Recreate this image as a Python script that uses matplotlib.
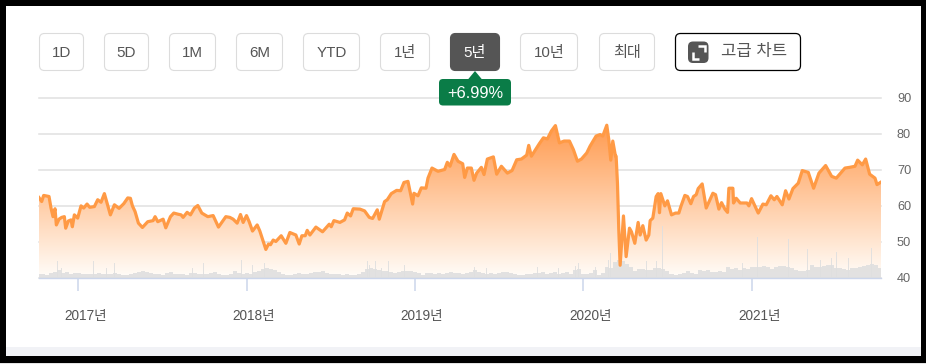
# -*- coding: utf-8 -*-
import numpy as np
import matplotlib
matplotlib.use("Agg")
import matplotlib.pyplot as plt
from matplotlib.patches import FancyBboxPatch, Rectangle, Polygon
from matplotlib.transforms import ScaledTranslation

plt.rcParams["font.family"] = ["Liberation Sans", "Noto Sans CJK KR"]

FIG_W = 926
FIG_H = 364

# trading session index (about 252 per year) and price
sessions = [0, 4, 7, 15, 18, 21, 24, 26, 30, 34, 38, 40, 44, 48, 50, 53, 58, 63, 67, 72,
            76, 83, 88, 93, 98, 102, 107, 113, 120, 127, 133, 137, 140, 144, 149, 155, 163, 171, 174, 178,
            186, 190, 197, 202, 208, 213, 216, 222, 227, 233, 238, 244, 253, 261, 269, 280, 286, 291, 297, 302,
            306, 311, 315, 320, 327, 331, 340, 344, 347, 351, 355, 363, 370, 376, 385, 390, 394, 399, 402, 406,
            415, 425, 435, 438, 442, 451, 458, 462, 467, 471, 481, 488, 495, 500, 507, 510, 518, 522, 528, 536,
            542, 547, 553, 560, 562, 568, 573, 580, 583, 589, 598, 608, 612, 616, 622, 628, 635, 638, 642, 648,
            652, 656, 663, 667, 672, 681, 686, 693, 702, 709, 716, 723, 731, 734, 738, 750, 756, 762, 768, 774,
            780, 787, 795, 801, 807, 813, 821, 826, 835, 841, 845, 851, 854, 857, 860, 864, 865, 867, 869, 871,
            876, 880, 885, 888, 893, 898, 901, 905, 910, 914, 916, 920, 925, 928, 930, 932, 938, 942, 948, 954,
            959, 962, 968, 972, 977, 981, 985, 988, 994, 1000, 1010, 1014, 1019, 1023, 1028, 1032, 1034, 1040, 1041, 1045,
            1051, 1061, 1064, 1068, 1071, 1078, 1085, 1090, 1097, 1102, 1106, 1114, 1119, 1124, 1130, 1138, 1144, 1153, 1161, 1169,
            1179, 1188, 1195, 1208, 1215, 1223, 1227, 1234, 1239, 1245, 1253, 1256, 1262]
prices = [62.2, 61.1, 62.8, 62.5, 59.3, 56.9, 59.1, 54.6, 56.2, 56.7, 56.9, 53.7, 55.7, 56.0, 54.1, 57.4, 56.5, 59.9, 59.3, 60.4,
          59.5, 59.7, 61.6, 60.9, 63.3, 60.7, 57.4, 60.2, 59.2, 60.5, 62.1, 62.0, 59.9, 58.3, 55.1, 53.9, 55.5, 55.8, 56.9, 55.5,
          56.2, 53.8, 56.9, 57.9, 57.6, 57.4, 56.7, 58.1, 57.4, 59.3, 60.0, 57.9, 56.9, 57.2, 54.0, 56.9, 56.7, 56.2, 55.1, 57.5,
          55.3, 57.2, 55.5, 52.9, 54.6, 52.9, 47.8, 49.3, 49.1, 50.4, 50.0, 51.6, 49.5, 52.5, 51.8, 49.3, 51.6, 51.6, 53.1, 51.8,
          54.0, 52.7, 54.8, 54.1, 55.8, 55.3, 56.0, 57.9, 57.1, 59.1, 59.0, 58.5, 56.7, 56.4, 58.8, 56.2, 61.1, 61.6, 63.3, 64.2,
          64.1, 66.4, 66.7, 60.4, 63.4, 62.7, 64.9, 64.8, 67.6, 70.4, 69.5, 70.0, 72.0, 70.9, 74.2, 72.3, 71.6, 67.8, 70.4, 70.4,
          67.0, 69.0, 70.6, 68.6, 72.9, 73.5, 68.7, 70.9, 69.0, 69.7, 72.7, 72.9, 74.0, 76.7, 73.7, 77.2, 78.8, 78.5, 80.7, 82.2,
          77.4, 77.9, 77.9, 75.5, 72.3, 72.9, 74.6, 76.5, 79.3, 79.7, 79.3, 82.3, 78.3, 72.6, 77.9, 73.7, 73.7, 66.2, 53.2, 43.4,
          57.1, 45.8, 53.7, 52.7, 49.5, 55.3, 51.8, 54.4, 50.4, 51.8, 55.8, 56.5, 62.5, 63.3, 58.0, 63.3, 59.9, 61.3, 57.4, 57.9,
          57.9, 59.7, 62.8, 62.5, 60.5, 62.5, 63.0, 64.7, 66.0, 59.3, 63.4, 63.0, 59.0, 60.8, 59.0, 58.1, 64.8, 64.8, 60.7, 62.0,
          60.7, 60.7, 59.9, 61.9, 60.7, 57.9, 60.4, 60.2, 62.7, 61.6, 62.5, 60.2, 64.1, 61.8, 64.7, 66.2, 69.7, 69.2, 64.8, 69.0,
          71.1, 68.1, 67.6, 70.4, 70.6, 70.9, 72.6, 71.3, 72.9, 68.7, 67.6, 65.8, 66.5]

# volume, one value per 6 sessions, and the isolated spikes
volume_step = 6
volumes = [4, 4, 3, 5, 6, 8, 5, 6, 4, 5,
           5, 4, 4, 4, 4, 5, 4, 4, 4, 5,
           4, 3, 3, 4, 5, 6, 7, 6, 5, 4,
           4, 3, 5, 6, 4, 4, 4, 3, 5, 5,
           4, 4, 4, 5, 6, 4, 3, 3, 4, 7,
           5, 4, 5, 4, 6, 7, 9, 10, 9, 8,
           6, 4, 3, 3, 4, 5, 4, 4, 5, 6,
           6, 7, 5, 4, 4, 4, 3, 4, 3, 3,
           4, 6, 9, 10, 9, 8, 7, 7, 6, 5,
           6, 7, 7, 7, 6, 5, 3, 5, 5, 4,
           5, 4, 5, 6, 5, 5, 4, 5, 6, 8,
           6, 5, 4, 5, 4, 5, 6, 6, 5, 4,
           3, 3, 4, 4, 5, 5, 6, 4, 5, 6,
           4, 5, 6, 4, 8, 9, 4, 4, 5, 8,
           3, 5, 11, 10, 16, 18, 17, 14, 11, 7,
           9, 9, 8, 8, 10, 10, 9, 7, 4, 3,
           4, 5, 7, 5, 4, 8, 7, 8, 6, 6,
           7, 6, 11, 9, 10, 8, 10, 9, 11, 11,
           11, 12, 11, 9, 11, 12, 12, 11, 10, 8,
           7, 7, 8, 13, 11, 11, 12, 13, 13, 10,
           10, 9, 8, 10, 10, 11, 12, 13, 14, 13, 10]
spike_sessions = [27, 33, 82, 101, 113, 230, 246, 303, 320, 338,
                  492, 496, 504, 513, 524, 548, 652, 670, 747, 778, 804, 809, 834, 854,
                  856, 911, 925, 935, 1054, 1077, 1123, 1152, 1172, 1188, 1196, 1214, 1248]
spike_volumes = [17, 10, 17, 10, 15, 10, 15, 18, 13, 15,
                 17, 13, 17, 10, 17, 13, 11, 10, 11, 10, 12, 15, 11, 18,
                 25, 17, 17, 52, 15, 41, 39, 29, 18, 20, 26, 20, 30]

year_sessions = [59, 312, 563, 816, 1069]
year_labels = ["2017년", "2018년", "2019년", "2020년", "2021년"]
price_ticks = [40, 50, 60, 70, 80, 90]

button_labels = ["1D", "5D", "1M", "6M", "YTD", "1년", "5년", "10년", "최대"]
button_lefts = [39, 104, 169, 236, 303, 380, 450, 520, 599]
button_rights = [84, 149, 216, 283, 360, 430, 500, 578, 655]
active_label = "5년"
change_label = "+6.99%"
advanced_label = "고급 차트"


# ----------
def px_text(ax, x, y, the_str, color="#555555", size=10.9, **kwargs):
    ax.text(x, y, the_str, color=color, fontsize=size, ha="center",
            va="center_baseline", **kwargs)


# ----------
def draw_frame(ax):
    ax.add_patch(Rectangle((6, 347), 915, 9, fc="#f1f2f6", ec="none"))
    ax.add_patch(Rectangle((0, 0), FIG_W, 6, fc="black", ec="none"))
    ax.add_patch(Rectangle((0, 0), 6, 363, fc="black", ec="none"))
    ax.add_patch(Rectangle((921, 0), 5, 363, fc="black", ec="none"))
    ax.add_patch(Rectangle((0, 356), FIG_W, 7, fc="black", ec="none"))
    ax.add_patch(Rectangle((0, 363), FIG_W, 1, fc="#e4e4e4", ec="none"))


# ----------
def draw_buttons(ax):
    for the_label, x0, x1 in zip(button_labels, button_lefts, button_rights):
        is_active = the_label == active_label
        ax.add_patch(FancyBboxPatch((x0 + .5, 33.5), x1 - x0 - 1, 37,
                                    boxstyle="round,pad=0,rounding_size=5",
                                    fc="#555555" if is_active else "white",
                                    ec="#555555" if is_active else "#dcdcdc",
                                    lw=.8))
        px_text(ax, (x0 + x1) / 2, 51.8, the_label,
                color="white" if is_active else "#555555")

    # advanced chart button
    ax.add_patch(FancyBboxPatch((675.5, 33.5), 125, 37,
                                boxstyle="round,pad=0,rounding_size=5",
                                fc="white", ec="black", lw=.9))
    ax.add_patch(FancyBboxPatch((688, 41.5), 20.5, 21.5,
                                boxstyle="round,pad=0,rounding_size=5",
                                fc="#555555", ec="none"))
    ax.plot([698, 704.5, 704.5], [45.5, 45.5, 51.5], color="white", lw=1.8,
            solid_capstyle="butt", solid_joinstyle="miter")
    ax.plot([692.5, 692.5, 699], [52, 58.5, 58.5], color="white", lw=1.8,
            solid_capstyle="butt", solid_joinstyle="miter")
    px_text(ax, 754.5, 50, advanced_label, size=12)

    # change tooltip
    ax.add_patch(Polygon([(467.5, 80), (475, 71), (482.5, 80)], fc="#0a7c47",
                         ec="none"))
    ax.add_patch(FancyBboxPatch((439, 79), 72, 26.5,
                                boxstyle="round,pad=0,rounding_size=4",
                                fc="#0a7c47", ec="none"))
    px_text(ax, 475, 92.5, change_label, color="white", size=11.8)


# ----------
def draw_chart(ax):
    the_x = np.array(sessions)
    the_y = np.array(prices)

    # gradient area under the price line
    the_fill = ax.fill_between(the_x, the_y, 40, color="none", zorder=2)
    the_tones = np.linspace(0, 1, 256)[:, None, None]
    the_top = np.array([1.0, .6, .3])
    the_bottom = np.array([1.0, .99, .975])
    the_image = the_top + (the_bottom - the_top) * the_tones
    im = ax.imshow(the_image, extent=(0, sessions[-1], 40, 83), aspect="auto",
                   origin="upper", zorder=2)
    im.set_clip_path(the_fill.get_paths()[0], transform=ax.transData)

    # volume, on the pixel scale of the price axis
    px_per_unit = 10 / 36
    vol_x = np.arange(len(volumes)) * volume_step
    ax.bar(vol_x, np.array(volumes) * px_per_unit, bottom=40, width=volume_step,
           color="#dfdfdf", alpha=.9, lw=0, zorder=3)
    ax.bar(spike_sessions, np.array(spike_volumes) * px_per_unit, bottom=40,
           width=1.5, color="#dfdfdf", alpha=.9, lw=0, zorder=3)

    ax.plot(the_x, the_y, color="#ff9a45", lw=2.3, solid_joinstyle="round",
            zorder=4)

    ax.set_xlim(0, sessions[-1])
    ax.set_ylim(40, 90)

    ax.grid(axis="y", color="#e0e0e0", lw=1.1, zorder=1)
    for the_line in ax.get_ygridlines():
        the_line.set_clip_on(False)
    ax.set_axisbelow(True)
    for the_name in ["top", "left", "right"]:
        ax.spines[the_name].set_visible(False)
    ax.spines["bottom"].set_color("#ccd6eb")
    ax.spines["bottom"].set_linewidth(1.0)
    ax.spines["bottom"].set_zorder(5)

    ax.yaxis.tick_right()
    ax.set_yticks(price_ticks)
    ax.tick_params(axis="y", length=0, pad=11.5, labelsize=9.2,
                   labelcolor="#666666")
    ax.set_xticks(year_sessions)
    ax.set_xticklabels(year_labels)
    ax.tick_params(axis="x", length=9.4, width=1.1, color="#ccd6eb", pad=13,
                   labelsize=9.8, labelcolor="#555555")
    the_shift = ScaledTranslation(7 / 100, 0, ax.figure.dpi_scale_trans)
    for the_label in ax.get_xticklabels():
        the_label.set_transform(the_label.get_transform() + the_shift)


# ----------
def main():
    fig = plt.figure(figsize=(FIG_W / 100, FIG_H / 100), dpi=100)

    ax = fig.add_axes([39 / FIG_W, 1 - 277.5 / FIG_H, 842 / FIG_W, 180 / FIG_H])
    draw_chart(ax)

    ui = fig.add_axes([0, 0, 1, 1], zorder=5)
    ui.set_xlim(0, FIG_W)
    ui.set_ylim(FIG_H, 0)
    ui.axis("off")
    draw_frame(ui)
    draw_buttons(ui)

    fig.savefig("out.png", dpi=100)


# ----------
if __name__ == "__main__":
    main()
